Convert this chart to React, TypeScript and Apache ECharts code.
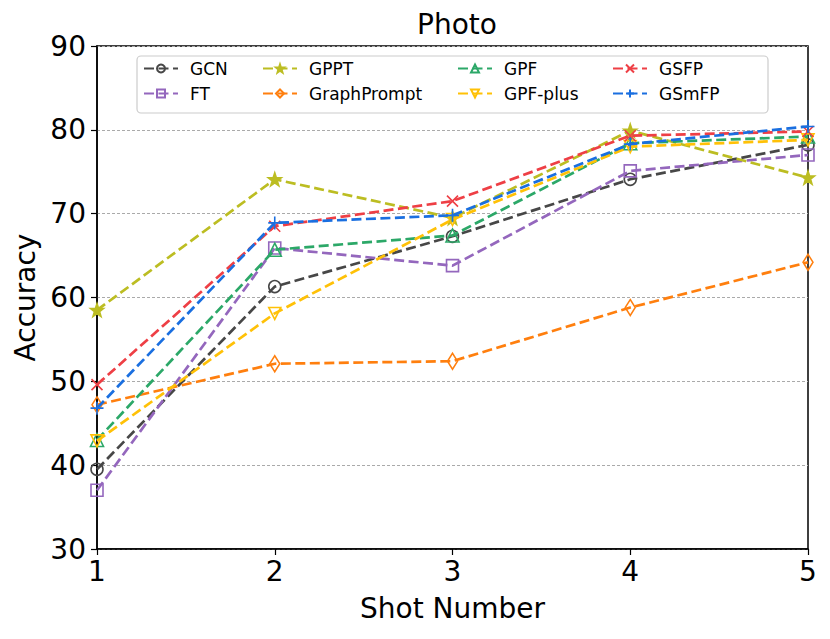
import React, { useEffect, useRef } from "react";
import * as echarts from "echarts";

const shots = [1, 2, 3, 4, 5];
const seriesNames = ["GCN", "FT", "GPPT", "GraphPrompt", "GPF", "GPF-plus", "GSFP", "GSmFP"];
const gcn = [39.5, 61.3, 67.3, 74.1, 78.2];
const ft = [37.0, 65.9, 63.8, 75.1, 77.0];
const gppt = [58.5, 74.1, 69.5, 79.9, 74.3];
const graphPrompt = [47.2, 52.1, 52.4, 58.8, 64.2];
const gpf = [43.0, 65.7, 67.4, 78.4, 79.2];
const gpfPlus = [42.9, 58.1, 69.3, 78.0, 78.8];
const gsfp = [49.6, 68.5, 71.5, 79.3, 79.8];
const gsmfp = [46.8, 68.9, 69.8, 78.3, 80.4];
const yTicks = [30, 40, 50, 60, 70, 80, 90];

const FONT = "DejaVu Sans";
const STAR =
  "path://M10,0 L12.35,6.76 L19.51,6.91 L13.8,11.24 L15.88,18.09 L10,14 L4.12,18.09 L6.2,11.24 L0.49,6.91 L7.65,6.76 Z";
const TRI_DOWN = "path://M0,0 L10,0 L5,10 Z";
const CROSS = "path://M0,0 L10,10 M0,10 L10,0";
const PLUS = "path://M5,0 L5,10 M0,5 L10,5";

const styles = [
  { color: "#474747", symbol: "circle", size: 12, filled: false },
  { color: "#9467bd", symbol: "rect", size: 12, filled: false },
  { color: "#bcbd22", symbol: STAR, size: 13, filled: true },
  { color: "#ff7f0e", symbol: "diamond", size: [10, 16], filled: false },
  { color: "#2ca868", symbol: "triangle", size: 13, filled: false },
  { color: "#ffc107", symbol: TRI_DOWN, size: 12, filled: false },
  { color: "#ee3f45", symbol: CROSS, size: 11, filled: false },
  { color: "#1a6fe0", symbol: PLUS, size: 13, filled: false },
];

const legendPos = [
  [143, 0],
  [143, 1],
  [262, 0],
  [262, 1],
  [457, 0],
  [457, 1],
  [612, 0],
  [612, 1],
];

export default function App() {
  const ref = useRef<HTMLDivElement>(null);
  useEffect(() => {
    if (!ref.current) return;
    const chart = echarts.init(ref.current, undefined, { renderer: "svg" });
    const values = [gcn, ft, gppt, graphPrompt, gpf, gpfPlus, gsfp, gsmfp];
    const series = seriesNames.map((name, i) => {
      const s = styles[i];
      return {
        name,
        type: "line",
        data: values[i].map((v, j) => [shots[j], v]),
        symbol: s.symbol,
        symbolSize: s.size,
        showAllSymbol: true,
        lineStyle: { color: s.color, width: 2.7, type: [10, 4.5] },
        itemStyle: {
          color: s.filled ? s.color : "rgba(0,0,0,0)",
          borderColor: s.color,
          borderWidth: 1.6,
        },
        emphasis: { disabled: true },
        z: 2 + i,
      };
    });
    const legends = seriesNames.map((name, i) => ({
      data: [name],
      left: legendPos[i][0],
      top: legendPos[i][1] === 0 ? 60 : 85,
      itemWidth: 34,
      itemHeight: 10,
      padding: 0,
      itemGap: 0,
      selectedMode: false,
      textStyle: { fontSize: 17, color: "#000", fontFamily: FONT, padding: [0, 0, 0, 7] },
    }));
    chart.setOption({
      animation: false,
      backgroundColor: "#fff",
      textStyle: { fontFamily: FONT },
      title: {
        text: "Photo",
        left: 452,
        top: 5,
        textAlign: "center",
        textStyle: { fontSize: 28, fontWeight: "normal", color: "#000", fontFamily: FONT },
      },
      grid: {
        left: 97,
        top: 46,
        right: 22,
        bottom: 90,
        show: true,
        borderColor: "#000",
        borderWidth: 1.5,
        backgroundColor: "transparent",
      },
      legend: legends,
      graphic: [
        {
          type: "rect",
          shape: { x: 137, y: 56, width: 631, height: 57, r: 4 },
          style: { fill: "rgba(255,255,255,0.8)", stroke: "#cccccc", lineWidth: 1.2 },
          z: 3,
        },
      ],
      xAxis: {
        type: "value",
        min: 1,
        max: 5,
        interval: 1,
        name: "Shot Number",
        nameLocation: "middle",
        nameGap: 45,
        nameTextStyle: { fontSize: 28, color: "#000", fontFamily: FONT },
        axisLine: { show: true, lineStyle: { color: "#000", width: 1.5 } },
        axisTick: { show: true, length: 6, lineStyle: { color: "#000", width: 1.2 } },
        axisLabel: { fontSize: 28, color: "#000", margin: 8, fontFamily: FONT },
        splitLine: { show: false },
      },
      yAxis: {
        type: "value",
        min: yTicks[0],
        max: yTicks[yTicks.length - 1],
        interval: 10,
        name: "Accuracy",
        nameLocation: "middle",
        nameGap: 48,
        nameTextStyle: { fontSize: 28, color: "#000", fontFamily: FONT },
        axisLine: { show: true, lineStyle: { color: "#000", width: 1.5 } },
        axisTick: { show: true, length: 6, lineStyle: { color: "#000", width: 1.2 } },
        axisLabel: { fontSize: 28, color: "#000", margin: 11, fontFamily: FONT },
        splitLine: { show: true, lineStyle: { color: "#aaaaaa", width: 1, type: [3, 2] } },
      },
      series,
    });
    return () => chart.dispose();
  }, []);
  return (
    <div
      ref={ref}
      style={{ position: "fixed", left: 0, top: 0, width: 830, height: 639, background: "#fff" }}
    />
  );
}
